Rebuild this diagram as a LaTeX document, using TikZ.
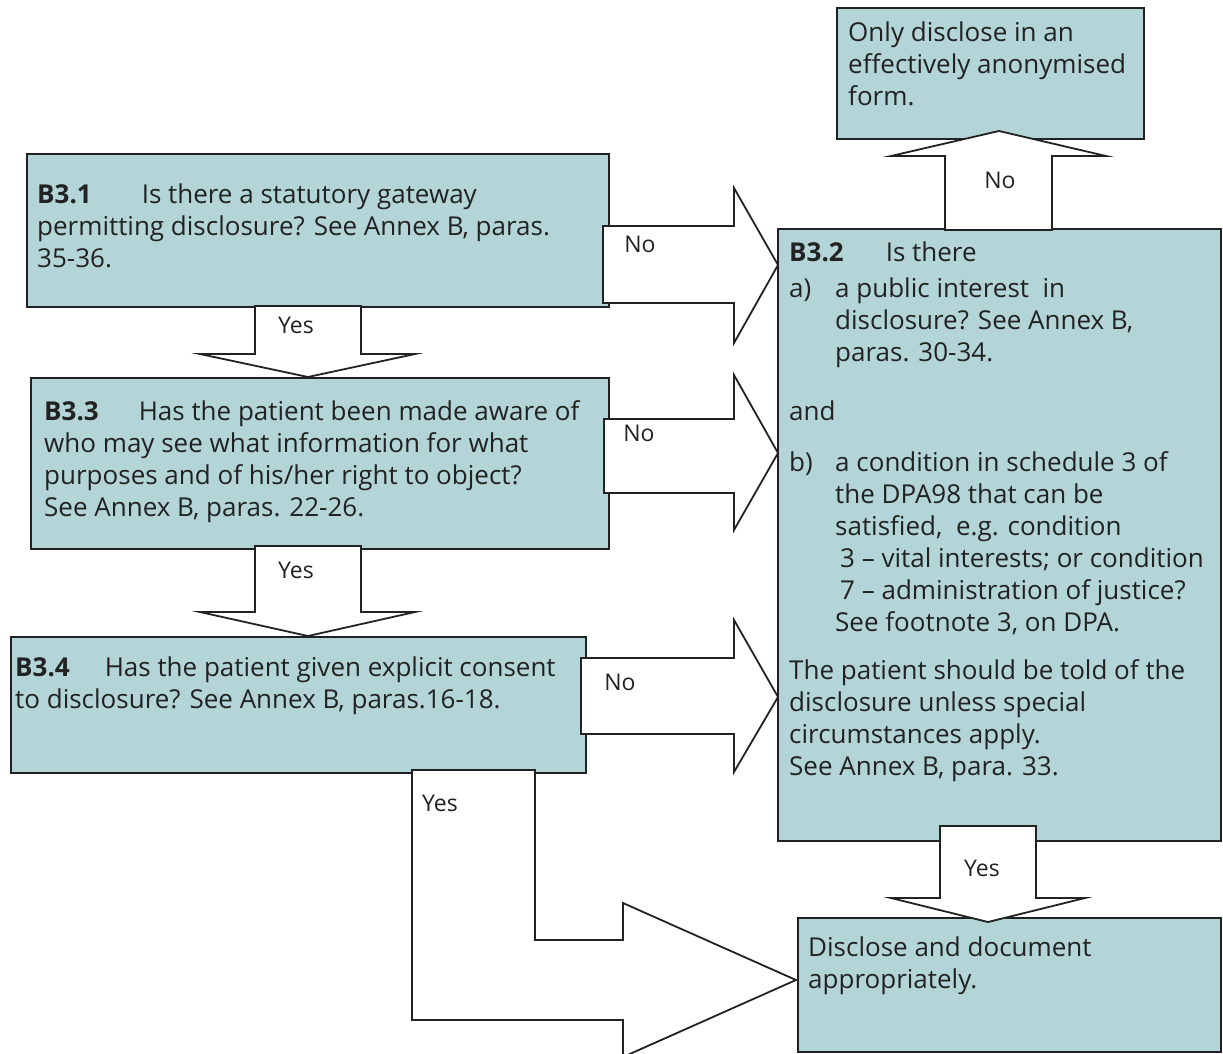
\documentclass[tikz,border=0pt]{standalone}
\usepackage{fontspec}
\setmainfont{Open Sans}
\definecolor{boxc}{HTML}{B3D5D8}
\definecolor{linec}{HTML}{222222}
\definecolor{textc}{HTML}{222222}
\begin{document}
\begin{tikzpicture}[x=1pt,y=-1pt,
  box/.style={draw=linec, line width=1.8pt, fill=boxc, inner sep=0pt, anchor=north west},
  arr/.style={draw=linec, line width=1.8pt, fill=white, line join=miter},
  txt/.style={anchor=north west, inner sep=0pt, align=left, font=\fontsize{26}{32}\selectfont, text=textc},
  lab/.style={inner sep=0pt, font=\fontsize{23}{26}\selectfont, text=textc}]
\useasboundingbox (0,0) rectangle (1223,1053);
% boxes
\node[box, minimum width=307pt, minimum height=131pt] (only) at (836,7) {};
\node[box, minimum width=443pt, minimum height=612pt] (b32) at (777,228) {};
\node[box, minimum width=582pt, minimum height=153pt] (b31) at (26,153) {};
\node[box, minimum width=578pt, minimum height=171pt] (b33) at (30,377) {};
\node[box, minimum width=575pt, minimum height=136pt] (b34) at (10,636) {};
\node[box, minimum width=423pt, minimum height=134pt] (disc) at (797,917) {};
% texts
\node[txt] (tonly) at (848,19) {\strut Only disclose in an\\effectively anonymised\\form.};
\node[txt] (t31) at (37,181) {\strut\textbf{B3.1}\hspace{50pt}Is there a statutory gateway\\permitting disclosure? See Annex B, paras.\\35-36.};
\node[txt] (t33) at (44,398) {\strut\textbf{B3.3}\hspace{40pt}Has the patient been made aware of\\who may see what information for what\\purposes and of his/her right to object?\\See Annex B, paras. 22-26.};
\node[txt] (t34) at (15,654) {\strut\textbf{B3.4}\hspace{35pt}Has the patient given explicit consent\\to disclosure? See Annex B, paras.16-18.};
\node[txt] (t32) at (789,239) {\strut\textbf{B3.2}\hspace{42pt}Is there\\[4pt]
\makebox[46pt][l]{a)}a public interest\ \ in\\
\hspace*{46pt}disclosure? See Annex B,\\
\hspace*{46pt}paras. 30-34.\\[27pt]
and\\[19pt]
\makebox[46pt][l]{b)}a condition in schedule 3 of\\
\hspace*{46pt}the DPA98 that can be\\
\hspace*{46pt}satisfied,\ \ e.g. condition\\
\hspace*{51pt}3 -- vital interests; or condition\\
\hspace*{51pt}7 -- administration of justice?\\
\hspace*{46pt}See footnote 3, on DPA.\\[16pt]
The patient should be told of the\\
disclosure unless special\\
circumstances apply.\\
See Annex B, para. 33.};
\node[txt] (tdisc) at (808,934) {\strut Disclose and document\\appropriately.};
% arrows
\draw[arr] (945,230) -- (945,156) -- (891,156) -- (999,131) -- (1106,156) -- (1052,156) -- (1052,230) -- cycle;
\draw[arr] (603,226) -- (734,226) -- (734,188) -- (778,265) -- (734,343) -- (734,303) -- (603,303) -- cycle;
\draw[arr] (604,419) -- (734,419) -- (734,375) -- (778,453) -- (734,530) -- (734,493) -- (604,493) -- cycle;
\draw[arr] (581,658) -- (734,658) -- (734,620) -- (778,697) -- (734,772) -- (734,734) -- (581,734) -- cycle;
\draw[arr] (255,306) -- (255,354) -- (200,354) -- (308,377) -- (415,354) -- (361,354) -- (361,306) -- cycle;
\draw[arr] (255,546) -- (255,612) -- (200,612) -- (308,636) -- (415,612) -- (361,612) -- (361,546) -- cycle;
\draw[arr] (412,770) -- (535,770) -- (535,940) -- (623,940) -- (623,903) -- (796,980) -- (623,1057) -- (623,1020) -- (412,1020) -- cycle;
\draw[arr] (940,826) -- (940,898) -- (891,898) -- (988,922) -- (1085,898) -- (1036,898) -- (1036,826) -- cycle;
% labels
\node[lab] (l1) at (1000,180) {No};
\node[lab] (l2) at (640,244) {No};
\node[lab] (l3) at (639,433) {No};
\node[lab] (l4) at (620,682) {No};
\node[lab] (l5) at (296,325) {Yes};
\node[lab] (l6) at (296,570) {Yes};
\node[lab] (l7) at (440,803) {Yes};
\node[lab] (l8) at (982,868) {Yes};
\end{tikzpicture}
\end{document}
